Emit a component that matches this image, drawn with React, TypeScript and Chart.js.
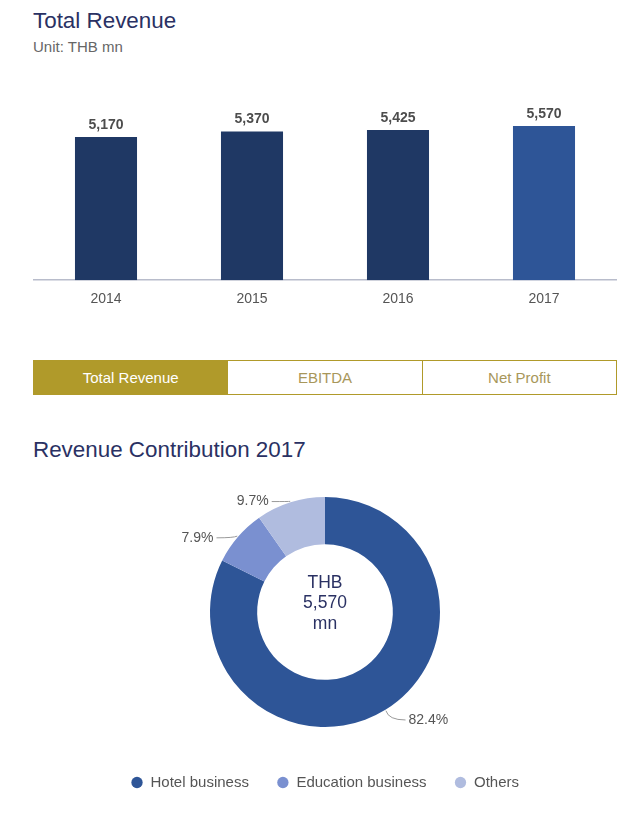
import React, { useEffect, useRef } from "react";
import { Chart, registerables } from "chart.js";

Chart.register(...registerables);

const years = ["2014", "2015", "2016", "2017"];
const revenue = [5170, 5370, 5425, 5570];
const barColors = ["#1f3864", "#1f3864", "#1f3864", "#2e5597"];

const segments = ["Hotel business", "Education business", "Others"];
const shares = [82.4, 7.9, 9.7];
const segmentColors = ["#2e5597", "#7a90d0", "#b0bcdf"];
const centerLines = ["THB", "5,570", "mn"];

const tabs = ["Total Revenue", "EBITDA", "Net Profit"];

const FONT = "'Liberation Sans', Arial, sans-serif";
const NAVY = "#2a3163";
const GOLD = "#b09a2a";

function fmt(n: number) {
  return n.toLocaleString("en-US");
}

const barLabelPlugin = {
  id: "barLabels",
  afterDatasetsDraw(chart: any) {
    const ctx = chart.ctx;
    const meta = chart.getDatasetMeta(0);
    ctx.save();
    ctx.font = `bold 14px ${FONT}`;
    ctx.fillStyle = "#4d4d4d";
    ctx.textAlign = "center";
    ctx.textBaseline = "bottom";
    meta.data.forEach((bar: any, i: number) => {
      ctx.fillText(fmt(chart.data.datasets[0].data[i]), bar.x, bar.y - 5);
    });
    ctx.restore();
  },
};

const donutPlugin = {
  id: "donutLabels",
  afterDatasetsDraw(chart: any) {
    const ctx = chart.ctx;
    const meta = chart.getDatasetMeta(0);
    ctx.save();
    const first = meta.data[0];
    const cx = first.x;
    const cy = first.y;
    ctx.font = `17.5px ${FONT}`;
    ctx.fillStyle = NAVY;
    ctx.textAlign = "center";
    ctx.textBaseline = "middle";
    centerLines.forEach((t, i) => {
      ctx.fillText(t, cx, cy - 29 + i * 20.5);
    });
    ctx.font = `14px ${FONT}`;
    meta.data.forEach((arc: any, i: number) => {
      const mid = (arc.startAngle + arc.endAngle) / 2;
      const R = arc.outerRadius;
      const dx = Math.cos(mid);
      const dy = Math.sin(mid);
      const sx = cx + (R + 1) * dx;
      const sy = cy + (R + 1) * dy;
      const ax = cx + (R + 6) * dx;
      const ay = cy + (R + 6) * dy + 5;
      const right = dx >= 0;
      const tx = right ? ax + 20 : ax - 20;
      const ex = right ? tx - 3 : tx + 3;
      ctx.strokeStyle = "#9a9a9a";
      ctx.lineWidth = 1;
      ctx.beginPath();
      ctx.moveTo(sx, sy);
      ctx.quadraticCurveTo(ax, ay, ex, ay);
      ctx.stroke();
      ctx.fillStyle = "#555";
      ctx.textAlign = right ? "left" : "right";
      ctx.textBaseline = "middle";
      ctx.fillText(chart.data.datasets[0].data[i].toFixed(1) + "%", tx, ay);
    });
    ctx.restore();
  },
};

function BarChart() {
  const ref = useRef<HTMLCanvasElement>(null);
  useEffect(() => {
    const chart = new Chart(ref.current!, {
      type: "bar",
      data: {
        labels: years,
        datasets: [
          {
            data: revenue,
            backgroundColor: barColors,
            barPercentage: 0.85,
            categoryPercentage: 0.5,
          },
        ],
      },
      options: {
        animation: false,
        responsive: false,
        maintainAspectRatio: false,
        layout: { padding: { top: 29, left: 0, right: 0, bottom: 0 } },
        plugins: { legend: { display: false }, tooltip: { enabled: false } },
        scales: {
          y: { display: false, min: 0, max: 6000 },
          x: {
            grid: { display: false, drawTicks: false },
            border: { display: true, color: "#b8bccb", width: 1.5 },
            ticks: { color: "#555", font: { size: 14, family: FONT }, padding: 11 },
          },
        },
      },
      plugins: [barLabelPlugin],
    });
    return () => chart.destroy();
  }, []);
  return (
    <canvas
      ref={ref}
      width={584}
      height={234}
      style={{ position: "absolute", left: 33, top: 85, width: 584, height: 234 }}
    />
  );
}

function DonutChart() {
  const ref = useRef<HTMLCanvasElement>(null);
  useEffect(() => {
    const chart = new Chart(ref.current!, {
      type: "doughnut",
      data: {
        labels: segments,
        datasets: [
          {
            data: shares,
            backgroundColor: segmentColors,
            borderWidth: 0,
            radius: 115,
            cutout: "59%",
          },
        ],
      },
      options: {
        animation: false,
        responsive: false,
        maintainAspectRatio: false,
        layout: { padding: { left: 24, top: 0, right: 0, bottom: 0 } },
        plugins: {
          tooltip: { enabled: false },
          legend: {
            position: "bottom",
            labels: {
              usePointStyle: true,
              pointStyle: "circle",
              boxWidth: 12,
              boxHeight: 8,
              padding: 28,
              color: "#555",
              font: { size: 15, family: FONT },
            },
          },
        },
      },
      plugins: [donutPlugin],
    });
    return () => chart.destroy();
  }, []);
  return (
    <canvas
      ref={ref}
      width={626}
      height={323}
      style={{ position: "absolute", left: 0, top: 477, width: 626, height: 323 }}
    />
  );
}

export default function App() {
  return (
    <div
      style={{
        position: "absolute",
        left: 0,
        top: 0,
        width: 626,
        height: 819,
        background: "#fff",
        fontFamily: FONT,
        overflow: "hidden",
      }}
    >
      <div style={{ position: "absolute", left: 33, top: 7, fontSize: 22.4, color: NAVY, lineHeight: "28px" }}>
        Total Revenue
      </div>
      <div style={{ position: "absolute", left: 33, top: 38, fontSize: 15, color: "#666", lineHeight: "18px" }}>
        Unit: THB mn
      </div>
      <BarChart />
      <div
        style={{
          position: "absolute",
          left: 33,
          top: 360,
          width: 584,
          height: 35,
          display: "flex",
          boxSizing: "border-box",
          border: `1px solid ${GOLD}`,
        }}
      >
        {tabs.map((t, i) => (
          <div
            key={t}
            style={{
              flex: 1,
              display: "flex",
              alignItems: "center",
              justifyContent: "center",
              fontSize: 15,
              background: i === 0 ? GOLD : "#fff",
              color: i === 0 ? "#fff" : "#a8975a",
              borderLeft: i > 0 ? `1px solid ${GOLD}` : "none",
            }}
          >
            {t}
          </div>
        ))}
      </div>
      <div style={{ position: "absolute", left: 33, top: 436, fontSize: 22.4, color: NAVY, lineHeight: "28px" }}>
        Revenue Contribution 2017
      </div>
      <DonutChart />
    </div>
  );
}
